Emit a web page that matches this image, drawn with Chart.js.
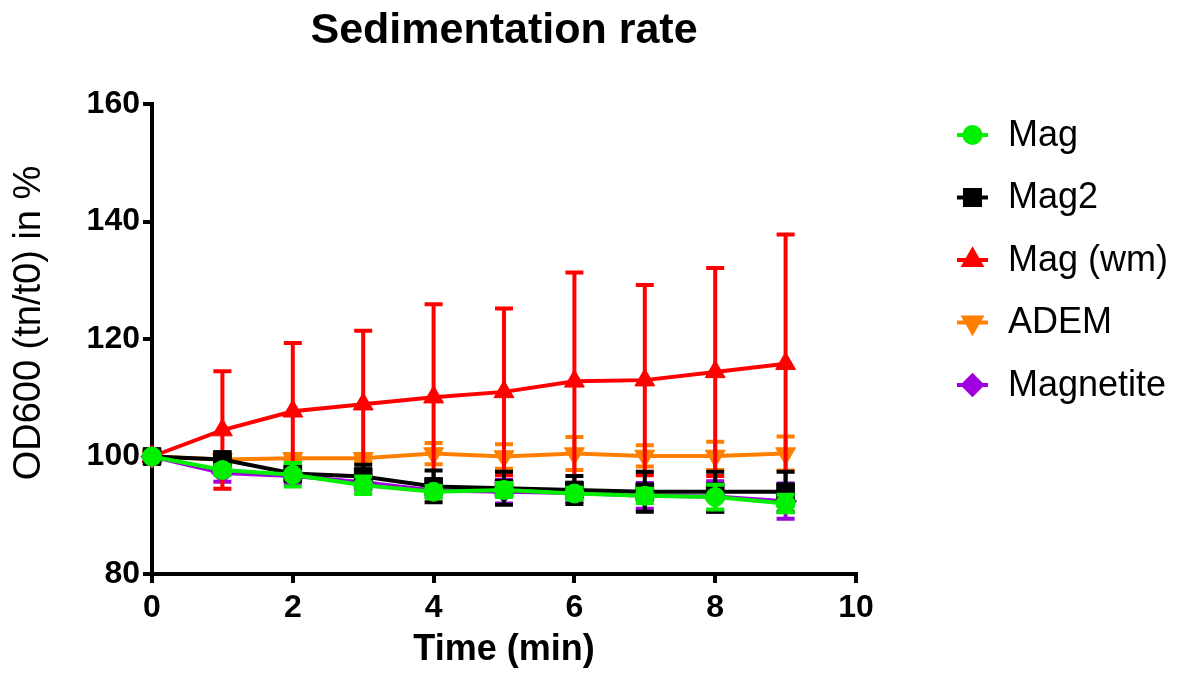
<!DOCTYPE html>
<html>
<head>
<meta charset="utf-8">
<script src="https://cdn.jsdelivr.net/npm/chart.js@4.4.1/dist/chart.umd.min.js"></script>
<style>
  html, body { margin: 0; padding: 0; background: #fff; }
  #wrap { width: 1185px; height: 679px; }
</style>
</head>
<body>
<div id="wrap"><canvas id="sedimentacion"></canvas></div>
<script>
// valores (media y error por minuto)
var tiempos = [0, 1, 2, 3, 4, 5, 6, 7, 8, 9];

var mag = [100, 97.7, 96.9, 95.1, 94.0, 94.3, 93.7, 93.3, 93.1, 92.0];
var magErr = [0, 0.8, 2.0, 1.5, 1.0, 1.2, 1.0, 1.2, 2.1, 1.5];

var mag2 = [100, 99.5, 97.1, 96.6, 94.9, 94.6, 94.3, 94.0, 94.0, 94.0];
var mag2Err = [0, 0.6, 1.0, 2.0, 2.7, 2.8, 2.4, 3.4, 3.4, 3.4];

var magWm = [100, 104.5, 107.7, 108.9, 110.1, 111.0, 112.8, 113.0, 114.4, 115.8];
var magWmErr = [0, 10.0, 11.6, 12.5, 15.8, 14.2, 18.5, 16.2, 17.7, 22.0];

var adem = [100, 99.5, 99.7, 99.7, 100.5, 100.0, 100.5, 100.1, 100.1, 100.5];
var ademErr = [0, 0.5, 0.6, 0.6, 1.8, 2.1, 2.8, 1.8, 2.4, 2.9];

var magnetite = [100, 97.2, 96.7, 95.6, 94.2, 94.0, 93.8, 93.3, 93.2, 92.4];
var magnetiteErr = [0, 1.5, 1.2, 1.2, 1.0, 2.0, 1.5, 2.2, 2.6, 3.0];

var xTicks = [0, 2, 4, 6, 8, 10];
var yTicks = [80, 100, 120, 140, 160];

var fuente = "'Liberation Sans', Arial, sans-serif";

function puntos(vals) {
  return tiempos.map(function (t, i) { return { x: t, y: vals[i] }; });
}

function serie(label, vals, errs, color, estilo, radio, rot) {
  return {
    label: label,
    data: puntos(vals),
    errores: errs,
    borderColor: color,
    backgroundColor: color,
    borderWidth: 4,
    pointStyle: estilo,
    pointRotation: rot || 0,
    pointRadius: radio,
    pointHoverRadius: radio,
    pointBackgroundColor: color,
    pointBorderColor: color,
    pointBorderWidth: 1,
    tension: 0,
    fill: false,
    clip: false
  };
}

// barras de error, dibujadas justo antes de cada serie
var barrasError = {
  id: 'barrasError',
  beforeDatasetDraw: function (chart, args) {
    var ds = chart.data.datasets[args.index];
    if (!ds.errores) return;
    var ctx = chart.ctx, y = chart.scales.y;
    ctx.save();
    ctx.strokeStyle = ds.borderColor;
    ctx.lineWidth = 4;
    args.meta.data.forEach(function (p, i) {
      var e = ds.errores[i];
      if (!e) return;
      var v = ds.data[i].y;
      var arriba = y.getPixelForValue(v + e), abajo = y.getPixelForValue(v - e);
      ctx.beginPath();
      ctx.moveTo(p.x, arriba); ctx.lineTo(p.x, abajo);
      ctx.moveTo(p.x - 9, arriba); ctx.lineTo(p.x + 9, arriba);
      ctx.moveTo(p.x - 9, abajo); ctx.lineTo(p.x + 9, abajo);
      ctx.stroke();
    });
    ctx.restore();
  }
};

// titulo, titulo del eje y y leyenda
var tituloLeyenda = {
  id: 'tituloLeyenda',
  afterDraw: function (chart) {
    var ctx = chart.ctx, a = chart.chartArea;
    ctx.save();
    ctx.fillStyle = '#000';
    ctx.font = 'bold 43px ' + fuente;
    ctx.textAlign = 'center';
    ctx.textBaseline = 'alphabetic';
    ctx.fillText('Sedimentation rate', (a.left + a.right) / 2, a.top - 61);

    ctx.save();
    ctx.translate(30, (a.top + a.bottom) / 2 - 16);
    ctx.rotate(-Math.PI / 2);
    ctx.font = '38px ' + fuente;
    ctx.textBaseline = 'middle';
    ctx.fillText('OD600 (tn/t0) in %', 0, 0);
    ctx.restore();

    ctx.font = '36px ' + fuente;
    ctx.textAlign = 'left';
    ctx.textBaseline = 'middle';
    chart.data.datasets.forEach(function (ds, i) {
      var x0 = a.right + 101, y0 = a.top + 31 + i * 62.5;
      ctx.strokeStyle = ds.borderColor;
      ctx.fillStyle = ds.borderColor;
      ctx.lineWidth = 4;
      ctx.beginPath();
      ctx.moveTo(x0, y0); ctx.lineTo(x0 + 31, y0);
      ctx.stroke();
      Chart.helpers.drawPoint(ctx, {
        pointStyle: ds.pointStyle,
        rotation: ds.pointRotation,
        radius: ds.pointRadius * 0.85,
        borderWidth: 1
      }, x0 + 15.5, y0);
      ctx.fillStyle = '#000';
      ctx.fillText(ds.label, x0 + 51, y0 + 1);
    });
    ctx.restore();
  }
};

new Chart(document.getElementById('sedimentacion'), {
  type: 'line',
  data: {
    datasets: [
      serie('Mag', mag, magErr, '#00f000', 'circle', 9.5),
      serie('Mag2', mag2, mag2Err, '#000000', 'rect', 12.5),
      serie('Mag (wm)', magWm, magWmErr, '#ff0000', 'triangle', 11.5),
      serie('ADEM', adem, ademErr, '#ff8000', 'triangle', 11.5, 180),
      serie('Magnetite', magnetite, magnetiteErr, '#a000e0', 'rectRot', 11)
    ]
  },
  options: {
    responsive: true,
    maintainAspectRatio: false,
    animation: false,
    layout: { padding: { top: 104, right: 329, bottom: 0, left: 0 } },
    plugins: {
      legend: { display: false },
      title: { display: false },
      tooltip: { enabled: false }
    },
    scales: {
      x: {
        type: 'linear',
        min: 0,
        max: 10,
        afterBuildTicks: function (s) { s.ticks = xTicks.map(function (v) { return { value: v }; }); },
        afterFit: function (s) { s.height = 105; },
        border: { color: '#000', width: 4 },
        grid: { drawOnChartArea: false, color: '#000', lineWidth: 4, tickLength: 9 },
        ticks: { color: '#000', padding: 6, maxRotation: 0, font: { family: fuente, size: 32, weight: 'bold' } },
        title: {
          display: true,
          text: 'Time (min)',
          color: '#000',
          font: { family: fuente, size: 36, weight: 'bold' },
          padding: { top: 0, bottom: 7 }
        }
      },
      y: {
        min: 80,
        max: 160,
        afterBuildTicks: function (s) { s.ticks = yTicks.map(function (v) { return { value: v }; }); },
        afterFit: function (s) { s.width = 152; },
        border: { color: '#000', width: 4 },
        grid: { drawOnChartArea: false, color: '#000', lineWidth: 4, tickLength: 9 },
        ticks: { color: '#000', padding: 3, font: { family: fuente, size: 32, weight: 'bold' } }
      }
    }
  },
  plugins: [barrasError, tituloLeyenda]
});
</script>
</body>
</html>
